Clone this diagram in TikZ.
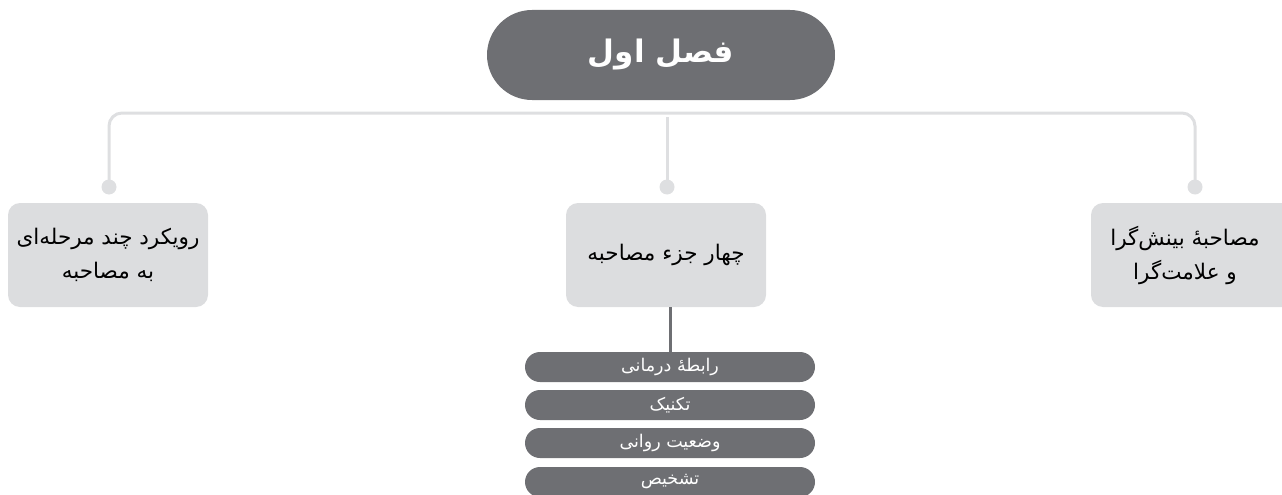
\documentclass[tikz,border=0pt]{standalone}
\usepackage{fontspec}
\TeXXeTstate=1
\newfontfamily\arabicfont[Script=Arabic]{DejaVu Sans}
\definecolor{pillgray}{HTML}{6E6F73}
\definecolor{boxgray}{HTML}{DCDDDF}
\definecolor{linegray}{HTML}{DEDFE1}
\tikzset{
  toppill/.style={fill=pillgray, rounded corners=45pt, minimum width=348pt, minimum height=90pt, inner sep=0pt, text=white, font=\arabicfont\bfseries\fontsize{31}{36}\selectfont},
  topicbox/.style={fill=boxgray, rounded corners=12pt, minimum width=200pt, minimum height=104pt, inner sep=0pt, align=center, text=black, font=\arabicfont\fontsize{21.5}{34}\selectfont},
  topictext/.style={align=center, text=black, font=\arabicfont\fontsize{21.5}{34}\selectfont},
  itempill/.style={fill=pillgray, rounded corners=15pt, minimum width=290pt, minimum height=30pt, inner sep=0pt, text=white, font=\arabicfont\fontsize{17.5}{20}\selectfont},
  dot/.style={circle, fill=linegray, minimum size=15pt, inner sep=0pt},
  conn/.style={draw=linegray, line width=3pt},
  darkconn/.style={draw=pillgray, line width=3pt}
}
\begin{document}
\begin{tikzpicture}[x=1pt, y=-1pt]
\useasboundingbox (0,0) rectangle (1282,495);
\clip (0,0) rectangle (1282,495);
% title
\node[toppill] (title) at (661,55) {\beginR فصل اول\endR};
% dots
\node[dot] (dL) at (109,187) {};
\node[dot] (dM) at (667,187) {};
\node[dot] (dR) at (1195,187) {};
\coordinate (cL) at (109,113);
\coordinate (cR) at (1195,113);
\coordinate (cM) at (667,117);
\draw[conn, rounded corners=13pt] (dL.center) -- (cL) -- (cR) -- (dR.center);
\draw[conn] (cM) -- (dM.center);
% topic boxes
\node[topicbox] (bL) at (108,255) {\beginR رویکرد چند مرحله‌ای\endR\\\beginR به مصاحبه\endR};
\node[topicbox] (bM) at (666,255) {\beginR چهار جزء مصاحبه\endR};
\node[topicbox, minimum width=220pt] (bR) at (1201,255) {};
\node[topictext] (tR) at (1185,255) {\beginR مصاحبهٔ بینش‌گرا\endR\\\beginR و علامت‌گرا\endR};
% items
\node[itempill] (i1) at (670,367) {\beginR رابطهٔ درمانی\endR};
\node[itempill] (i2) at (670,405) {\beginR تکنیک\endR};
\node[itempill] (i3) at (670,443) {\beginR وضعیت روانی\endR};
\node[itempill] (i4) at (670,482) {\beginR تشخیص\endR};
\draw[darkconn] (bM.south -| i1.north) -- (i1.north);
\end{tikzpicture}
\end{document}
